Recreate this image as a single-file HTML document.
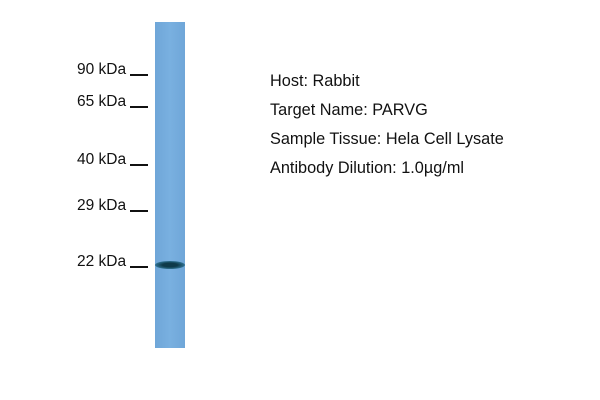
<!DOCTYPE html>
<html><head><style>
body{margin:0;width:600px;height:400px;background:#fff;position:relative;overflow:hidden;font-family:"Liberation Sans",Arial,sans-serif;color:#111}
.l{position:absolute;left:77px;font-size:15.5px;line-height:15px;white-space:pre}
.u{position:absolute;left:130px;width:18px;height:1.5px;background:#111}
.t{position:absolute;left:270px;font-size:16.3px;line-height:16px;white-space:pre}
.lane{position:absolute;left:155px;top:22px;width:30px;height:326px;background:linear-gradient(90deg,#6fa6d8,#79b0e0 50%,#6fa6d8)}
.band{position:absolute;left:155px;top:261px;width:30px;height:8px;border-radius:50%;background:radial-gradient(ellipse at center,#0e3a4a 35%,#2a6a88 65%,rgba(110,166,216,0) 100%)}
</style></head><body>
<div class="lane"></div>
<div class="band"></div>
<div class="l" style="top:62px">90 kDa</div><div class="u" style="top:74px"></div>
<div class="l" style="top:94px">65 kDa</div><div class="u" style="top:106px"></div>
<div class="l" style="top:152px">40 kDa</div><div class="u" style="top:164px"></div>
<div class="l" style="top:198px">29 kDa</div><div class="u" style="top:210px"></div>
<div class="l" style="top:254px">22 kDa</div><div class="u" style="top:266px"></div>
<div class="t" style="top:73px">Host: Rabbit</div>
<div class="t" style="top:102px">Target Name: PARVG</div>
<div class="t" style="top:131px">Sample Tissue: Hela Cell Lysate</div>
<div class="t" style="top:160px">Antibody Dilution: 1.0µg/ml</div>
</body></html>
